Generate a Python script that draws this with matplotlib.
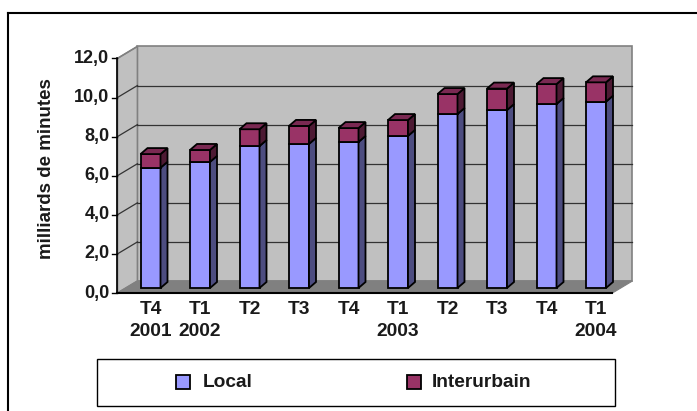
import matplotlib
matplotlib.use("Agg")
import matplotlib.pyplot as plt
from matplotlib.patches import Polygon, Rectangle
from matplotlib.lines import Line2D
from matplotlib.transforms import offset_copy

# ---------------- data ----------------
quarters = ["T4\n2001", "T1\n2002", "T2", "T3", "T4", "T1\n2003", "T2", "T3", "T4", "T1\n2004"]
local = [6.15, 6.45, 7.26, 7.37, 7.47, 7.78, 8.90, 9.10, 9.41, 9.53]
interurbain = [0.70, 0.61, 0.86, 0.92, 0.71, 0.81, 1.02, 1.10, 1.02, 0.99]
yticks = [0, 2, 4, 6, 8, 10, 12]
ytick_labels = ["0,0", "2,0", "4,0", "6,0", "8,0", "10,0", "12,0"]
series_names = ["Local", "Interurbain"]
ylabel = "milliards de minutes"

# ---------------- style ----------------
W, H = 697, 411
FONT = "Liberation Sans"
TXT = "#1a1a1a"
c_local = ("#9999ff", "#4d4d80", "#7a7acc")
c_inter = ("#993366", "#4d1a33", "#7a2952")
wall_c = "#c0c0c0"
floor_c = "#808080"

fig = plt.figure(figsize=(W / 100, H / 100), dpi=100)
fig.patch.set_facecolor("white")


def fx(px):
    return px / W


def fy(py):
    return 1 - py / H


ax = fig.add_axes([fx(125.75), fy(288), (620.75 - 125.75) / W, (288 - 53.4) / H])
ax.set_xlim(-0.5, 9.5)
ax.set_ylim(0, 12)
ax.axis("off")

p0 = ax.transData.transform((0, 0))
p1 = ax.transData.transform((1, 1))
sx, sy = p1[0] - p0[0], p1[1] - p0[1]


def sh(pt, off):
    return (pt[0] + off[0] / sx, pt[1] + off[1] / sy)


FRONT = (-8.3, -5.0)
BACK = (11.7, 7.0)
DEPTH = (7.0, 6.0)
x0, x1 = -0.5, 9.5
ymax = yticks[-1]

# back wall
ax.add_patch(Polygon([sh((x0, 0), BACK), sh((x1, 0), BACK), sh((x1, ymax), BACK), sh((x0, ymax), BACK)],
                     closed=True, facecolor=wall_c, edgecolor="#808080", lw=1.2, zorder=1, clip_on=False))
# side wall
ax.add_patch(Polygon([sh((x0, 0), FRONT), sh((x0, ymax), FRONT), sh((x0, ymax), BACK), sh((x0, 0), BACK)],
                     closed=True, facecolor=wall_c, edgecolor="#808080", lw=1.2, zorder=1, clip_on=False))
# gridlines
for v in yticks[1:-1]:
    a, b = sh((x0, v), BACK), sh((x1, v), BACK)
    ax.add_line(Line2D([a[0], b[0]], [a[1], b[1]], color="#333333", lw=0.9, zorder=2, clip_on=False))
for v in yticks[1:]:
    a, b = sh((x0, v), FRONT), sh((x0, v), BACK)
    ax.add_line(Line2D([a[0], b[0]], [a[1], b[1]], color="#333333" if v < ymax else "#808080",
                       lw=0.9, zorder=2, clip_on=False))
# floor
ax.add_patch(Polygon([sh((x0, 0), FRONT), sh((x1, 0), FRONT), sh((x1, 0), BACK), sh((x0, 0), BACK)],
                     closed=True, facecolor=floor_c, edgecolor="#808080", lw=0.8, zorder=3, clip_on=False))
# axes lines
a, b = sh((x0, 0), FRONT), sh((x0, ymax), FRONT)
ax.add_line(Line2D([a[0], b[0]], [a[1], b[1]], color="black", lw=1.2, zorder=4, clip_on=False))
a, b = sh((x0, 0), FRONT), sh((x1, 0), FRONT)
ax.add_line(Line2D([a[0], b[0]], [a[1], b[1]], color="black", lw=1.5, zorder=4, clip_on=False))
for v, lab in zip(yticks, ytick_labels):
    a = sh((x0, v), FRONT)
    ax.add_line(Line2D([a[0] - 5 / sx, a[0]], [a[1], a[1]], color="black", lw=1.0, zorder=4, clip_on=False))
    ax.text(a[0] - 8 / sx, a[1], lab, ha="right", va="center", fontsize=13, fontweight="bold",
            family=FONT, color=TXT, zorder=4)

# bars
bw = 20 / sx
xs = list(range(len(quarters)))
for i in xs:
    bottoms = [0, local[i]]
    heights = [local[i], interurbain[i]]
    for (bot, hgt, cols) in zip(bottoms, heights, [c_local, c_inter]):
        top = bot + hgt
        ax.bar(i, hgt, bottom=bot, width=bw, color=cols[0], edgecolor="black", lw=1.3,
               zorder=10 + i, clip_on=False)
        xr = i + bw / 2
        ax.add_patch(Polygon([(xr, bot), (xr, top), sh((xr, top), DEPTH), sh((xr, bot), DEPTH)],
                             closed=True, facecolor=cols[1], edgecolor="black", lw=1.3,
                             zorder=10 + i, clip_on=False))
    tot = local[i] + interurbain[i]
    xl, xr = i - bw / 2, i + bw / 2
    ax.add_patch(Polygon([(xl, tot), (xr, tot), sh((xr, tot), DEPTH), sh((xl, tot), DEPTH)],
                         closed=True, facecolor=c_inter[2], edgecolor="black", lw=1.3,
                         zorder=10 + i, clip_on=False))

# category labels
tr = offset_copy(ax.transData, fig=fig, x=0, y=-13, units="dots")
for i, q in zip(xs, quarters):
    ax.text(i, 0, q, transform=tr, ha="center", va="top", fontsize=13.8, fontweight="bold",
            family=FONT, color=TXT, linespacing=1.35)

# y label
fig.text(fx(47), fy(169), ylabel, rotation=90, ha="center", va="center", fontsize=13.5,
         fontweight="bold", family=FONT, color=TXT)

# legend
fig.add_artist(Rectangle((fx(97), fy(406)), (615 - 97) / W, (406 - 359) / H, transform=fig.transFigure,
                         facecolor="white", edgecolor="black", lw=1.0))
leg_pos = [(176, 203), (407, 432)]
for (mx, tx), name, cols in zip(leg_pos, series_names, [c_local, c_inter]):
    fig.add_artist(Rectangle((fx(mx), fy(389)), 14 / W, 14 / H, transform=fig.transFigure,
                             facecolor=cols[0], edgecolor="black", lw=1.3))
    fig.text(fx(tx), fy(382), name, ha="left", va="center", fontsize=13.8, fontweight="bold",
             family=FONT, color=TXT)

# outer border
fig.add_artist(Line2D([fx(8), fx(700)], [fy(13), fy(13)], transform=fig.transFigure, color="black", lw=1.5))
fig.add_artist(Line2D([fx(8), fx(8)], [fy(13), fy(415)], transform=fig.transFigure, color="black", lw=1.5))

fig.savefig("out.png", dpi=100)
